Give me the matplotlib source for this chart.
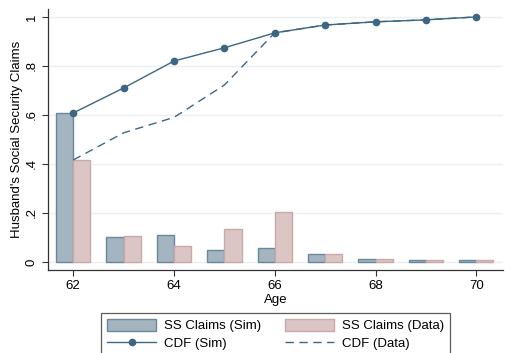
import numpy as np
import matplotlib.pyplot as plt

plt.rcParams['font.family'] = ['Liberation Sans', 'DejaVu Sans']

age = [62, 63, 64, 65, 66, 67, 68, 69, 70]
claims_sim = [0.608, 0.102, 0.110, 0.049, 0.057, 0.033, 0.012, 0.008, 0.008]
claims_data = [0.416, 0.106, 0.065, 0.135, 0.204, 0.033, 0.012, 0.008, 0.008]
cdf_sim = [0.608, 0.710, 0.820, 0.874, 0.935, 0.967, 0.980, 0.988, 1.0]
cdf_data = [0.416, 0.527, 0.590, 0.722, 0.935, 0.967, 0.980, 0.988, 1.0]

yticks = [0, 0.2, 0.4, 0.6, 0.8, 1.0]
ylabels = ['0', '.2', '.4', '.6', '.8', '1']

LINE = '#3d6682'
SIM_FILL, SIM_EDGE = '#a4b4c1', '#6b889b'
DAT_FILL, DAT_EDGE = '#dbc6c5', '#c9a9a7'

fig = plt.figure(figsize=(5.13, 3.53), dpi=100)
ax = fig.add_axes([0.0936, 0.235, 0.887, 0.74])

w = 0.34
b1 = ax.bar(age, claims_sim, width=-w, align='edge', color=SIM_FILL, edgecolor=SIM_EDGE,
            linewidth=1.0, zorder=2)
b2 = ax.bar(age, claims_data, width=w, align='edge', color=DAT_FILL, edgecolor=DAT_EDGE,
            linewidth=1.0, zorder=2)
l1, = ax.plot(age, cdf_sim, color=LINE, lw=1.0, marker='o', markersize=4.5, zorder=3)
l2, = ax.plot(age, cdf_data, color=LINE, lw=1.0, ls=(0, (6, 4)), zorder=3)

ax.set_xlim(61.5, 70.53)
ax.set_ylim(-0.033, 1.033)
ax.set_xticks([62, 64, 66, 68, 70])
ax.set_yticks(yticks)
ax.set_yticklabels(ylabels, rotation=90, va='center')
ax.tick_params(labelsize=9.5, length=4, width=0.8, color='#333333')
ax.grid(axis='y', color='#eaf0f3', lw=1.0, zorder=0)
ax.set_axisbelow(True)
for s in ['top', 'right']:
    ax.spines[s].set_visible(False)
for s in ['left', 'bottom']:
    ax.spines[s].set_color('#333333')
    ax.spines[s].set_linewidth(0.9)
ax.set_xlabel('Age', fontsize=9.5, labelpad=1)
ax.set_ylabel("Husband's Social Security Claims", fontsize=9.5, labelpad=2)

# ncol=2 fills column by column
handles = [b1, l1, b2, l2]
labels = ['SS Claims (Sim)', 'CDF (Sim)', 'SS Claims (Data)', 'CDF (Data)']
leg = fig.legend(handles, labels, ncol=2,
                 loc='upper center', bbox_to_anchor=(275.5 / 513, 1 - 313 / 353),
                 borderaxespad=0, fontsize=9.5, frameon=True, fancybox=False,
                 edgecolor='#333333', handlelength=3.7, handleheight=1.0,
                 columnspacing=1.8, borderpad=0.45, labelspacing=0.3, handletextpad=0.6)
leg.get_frame().set_linewidth(0.9)

fig.savefig('out.png', dpi=100)
